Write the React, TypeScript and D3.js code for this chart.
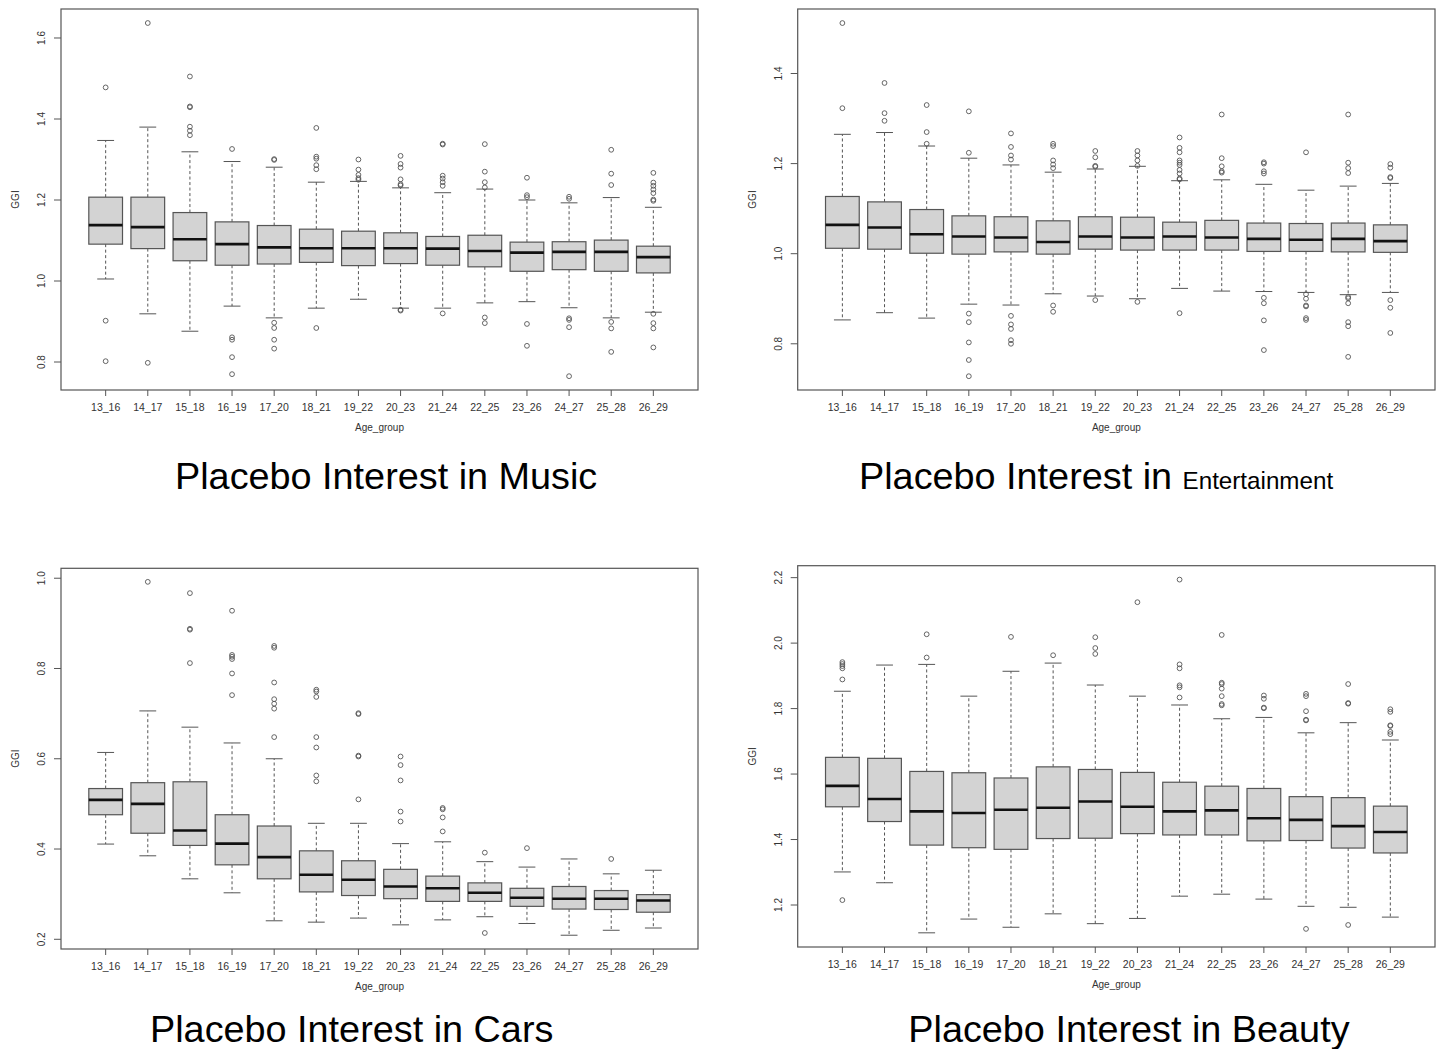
import React from "react";
import * as d3 from "d3";

// Age groups shared by all four panels
const ageGroups = [
  "13_16", "14_17", "15_18", "16_19", "17_20", "18_21", "19_22",
  "20_23", "21_24", "22_25", "23_26", "24_27", "25_28", "26_29",
];

// Each row: [lower whisker, Q1, median, Q3, upper whisker]
const musicBoxes: number[][] = [
  [1.005, 1.091, 1.138, 1.207, 1.347],
  [0.919, 1.080, 1.133, 1.207, 1.380],
  [0.876, 1.050, 1.103, 1.169, 1.319],
  [0.938, 1.039, 1.091, 1.146, 1.295],
  [0.909, 1.042, 1.083, 1.137, 1.281],
  [0.933, 1.046, 1.081, 1.128, 1.244],
  [0.955, 1.038, 1.081, 1.123, 1.246],
  [0.933, 1.043, 1.081, 1.119, 1.230],
  [0.933, 1.039, 1.080, 1.110, 1.218],
  [0.946, 1.035, 1.074, 1.113, 1.227],
  [0.949, 1.024, 1.070, 1.096, 1.200],
  [0.934, 1.028, 1.072, 1.097, 1.193],
  [0.909, 1.024, 1.072, 1.101, 1.206],
  [0.923, 1.020, 1.059, 1.086, 1.182],
];
const musicOutliers: number[][] = [
  [1.478, 0.902, 0.802],
  [1.637, 0.798],
  [1.505, 1.431, 1.429, 1.381, 1.371, 1.360],
  [1.326, 0.861, 0.855, 0.812, 0.770],
  [1.301, 1.299, 0.897, 0.884, 0.855, 0.833],
  [1.378, 1.307, 1.302, 1.286, 1.276, 0.884],
  [1.300, 1.275, 1.262, 1.254, 1.250],
  [1.309, 1.289, 1.280, 1.251, 1.239, 1.236, 0.929, 0.927],
  [1.339, 1.337, 1.260, 1.253, 1.244, 1.235, 0.920],
  [1.338, 1.270, 1.244, 1.231, 0.910, 0.896],
  [1.255, 1.212, 1.207, 0.894, 0.840],
  [1.208, 1.203, 0.908, 0.904, 0.886, 0.765],
  [1.324, 1.265, 1.237, 0.899, 0.883, 0.825],
  [1.267, 1.243, 1.235, 1.226, 1.217, 1.201, 1.198, 0.919, 0.896, 0.883, 0.836],
];

const entertainmentBoxes: number[][] = [
  [0.853, 1.012, 1.064, 1.127, 1.265],
  [0.869, 1.010, 1.058, 1.115, 1.269],
  [0.857, 1.001, 1.043, 1.098, 1.239],
  [0.888, 0.999, 1.038, 1.084, 1.212],
  [0.886, 1.004, 1.036, 1.082, 1.197],
  [0.911, 0.999, 1.026, 1.073, 1.181],
  [0.906, 1.010, 1.038, 1.082, 1.188],
  [0.900, 1.008, 1.036, 1.081, 1.194],
  [0.923, 1.008, 1.038, 1.070, 1.162],
  [0.917, 1.008, 1.036, 1.074, 1.164],
  [0.916, 1.005, 1.033, 1.068, 1.154],
  [0.914, 1.005, 1.031, 1.067, 1.141],
  [0.909, 1.004, 1.033, 1.068, 1.150],
  [0.914, 1.003, 1.028, 1.064, 1.156],
];
const entertainmentOutliers: number[][] = [
  [1.512, 1.323],
  [1.379, 1.312, 1.295],
  [1.330, 1.270, 1.244],
  [1.316, 1.224, 0.867, 0.848, 0.803, 0.764, 0.728],
  [1.267, 1.237, 1.218, 1.209, 0.862, 0.843, 0.833, 0.808, 0.800],
  [1.244, 1.239, 1.207, 1.198, 1.190, 0.885, 0.871],
  [1.228, 1.214, 1.195, 1.193, 0.897],
  [1.228, 1.218, 1.207, 1.195, 0.893],
  [1.258, 1.235, 1.225, 1.207, 1.202, 1.197, 1.186, 1.178, 1.167, 1.165, 0.868],
  [1.309, 1.212, 1.194, 1.183, 1.180],
  [1.203, 1.200, 1.183, 1.178, 0.902, 0.890, 0.852, 0.786],
  [1.225, 0.910, 0.900, 0.885, 0.883, 0.857, 0.853],
  [1.309, 1.202, 1.190, 1.179, 0.904, 0.901, 0.890, 0.848, 0.839, 0.771],
  [1.199, 1.191, 1.170, 1.168, 0.897, 0.880, 0.824],
];

const carsBoxes: number[][] = [
  [0.411, 0.476, 0.509, 0.534, 0.614],
  [0.385, 0.435, 0.500, 0.547, 0.706],
  [0.334, 0.408, 0.441, 0.549, 0.670],
  [0.303, 0.365, 0.412, 0.476, 0.635],
  [0.241, 0.334, 0.382, 0.451, 0.600],
  [0.238, 0.305, 0.343, 0.396, 0.457],
  [0.247, 0.297, 0.332, 0.374, 0.457],
  [0.232, 0.290, 0.317, 0.355, 0.412],
  [0.243, 0.284, 0.313, 0.340, 0.416],
  [0.250, 0.284, 0.303, 0.325, 0.372],
  [0.235, 0.273, 0.292, 0.313, 0.360],
  [0.209, 0.267, 0.290, 0.317, 0.378],
  [0.220, 0.266, 0.290, 0.308, 0.345],
  [0.225, 0.260, 0.286, 0.299, 0.353],
];
const carsOutliers: number[][] = [
  [],
  [0.992],
  [0.967, 0.888, 0.886, 0.812],
  [0.928, 0.830, 0.826, 0.821, 0.789, 0.741],
  [0.850, 0.846, 0.769, 0.732, 0.722, 0.711, 0.648],
  [0.753, 0.749, 0.737, 0.648, 0.625, 0.563, 0.550],
  [0.701, 0.699, 0.607, 0.605, 0.510],
  [0.605, 0.586, 0.552, 0.483, 0.461],
  [0.491, 0.488, 0.470, 0.439],
  [0.392, 0.214],
  [0.402],
  [],
  [0.378],
  [],
];

const beautyBoxes: number[][] = [
  [1.301, 1.500, 1.564, 1.651, 1.853],
  [1.268, 1.455, 1.524, 1.648, 1.933],
  [1.115, 1.383, 1.486, 1.608, 1.935],
  [1.157, 1.375, 1.481, 1.604, 1.838],
  [1.132, 1.370, 1.491, 1.588, 1.914],
  [1.173, 1.403, 1.497, 1.622, 1.939],
  [1.143, 1.404, 1.516, 1.614, 1.872],
  [1.159, 1.418, 1.500, 1.605, 1.838],
  [1.227, 1.414, 1.486, 1.575, 1.811],
  [1.233, 1.414, 1.489, 1.563, 1.769],
  [1.218, 1.396, 1.465, 1.556, 1.773],
  [1.196, 1.397, 1.460, 1.531, 1.726],
  [1.193, 1.374, 1.441, 1.528, 1.757],
  [1.163, 1.359, 1.423, 1.502, 1.704],
];
const beautyOutliers: number[][] = [
  [1.942, 1.936, 1.930, 1.923, 1.889, 1.215],
  [],
  [2.027, 1.956],
  [],
  [2.019],
  [1.963],
  [2.018, 1.985, 1.967],
  [2.125],
  [2.194, 1.935, 1.923, 1.871, 1.865, 1.834],
  [2.025, 1.879, 1.875, 1.861, 1.838, 1.814, 1.810],
  [1.840, 1.830, 1.803, 1.801],
  [1.845, 1.838, 1.792, 1.766, 1.764, 1.127],
  [1.875, 1.817, 1.815, 1.139],
  [1.798, 1.790, 1.749, 1.747, 1.729, 1.722],
];

const musicTicks = [0.8, 1.0, 1.2, 1.4, 1.6];
const entertainmentTicks = [0.8, 1.0, 1.2, 1.4];
const carsTicks = [0.2, 0.4, 0.6, 0.8, 1.0];
const beautyTicks = [1.2, 1.4, 1.6, 1.8, 2.0, 2.2];

const FONT = "'Liberation Sans', Arial, Helvetica, sans-serif";
const FRAME = "#555";
const INK = "#333";

type PanelProps = {
  left: number;
  right: number;
  top: number;
  bottom: number;
  yDomain: [number, number];
  ticks: number[];
  boxes: number[][];
  outliers: number[][];
};

function BoxPanel({ left, right, top, bottom, yDomain, ticks, boxes, outliers }: PanelProps) {
  const x = d3.scalePoint<string>().domain(ageGroups).range([left, right]).padding(1.06);
  const y = d3.scaleLinear().domain(yDomain).range([bottom, top]);
  const boxW = x.step() * 0.8;
  const capW = boxW / 2;
  const fmt = d3.format(".1f");
  const midY = (top + bottom) / 2;
  const midX = (left + right) / 2;

  return (
    <g fontFamily={FONT}>
      {ageGroups.map((g, i) => {
        const [lw, q1, med, q3, uw] = boxes[i];
        const cx = x(g)!;
        return (
          <g key={g}>
            <line x1={cx} x2={cx} y1={y(q3)} y2={y(uw)} stroke={FRAME} strokeWidth={1} strokeDasharray="3,2.5" />
            <line x1={cx} x2={cx} y1={y(q1)} y2={y(lw)} stroke={FRAME} strokeWidth={1} strokeDasharray="3,2.5" />
            <line x1={cx - capW / 2} x2={cx + capW / 2} y1={y(uw)} y2={y(uw)} stroke={FRAME} strokeWidth={1} />
            <line x1={cx - capW / 2} x2={cx + capW / 2} y1={y(lw)} y2={y(lw)} stroke={FRAME} strokeWidth={1} />
            <rect
              x={cx - boxW / 2}
              y={y(q3)}
              width={boxW}
              height={y(q1) - y(q3)}
              fill="#d3d3d3"
              stroke={FRAME}
              strokeWidth={1.2}
            />
            <line x1={cx - boxW / 2} x2={cx + boxW / 2} y1={y(med)} y2={y(med)} stroke="#111" strokeWidth={2.6} />
            {outliers[i].map((v, j) => (
              <circle key={j} cx={cx} cy={y(v)} r={2.4} fill="none" stroke={FRAME} strokeWidth={0.9} />
            ))}
          </g>
        );
      })}

      <rect x={left} y={top} width={right - left} height={bottom - top} fill="none" stroke={FRAME} strokeWidth={1.2} />

      {ticks.map((t) => (
        <g key={t}>
          <line x1={left - 7} x2={left} y1={y(t)} y2={y(t)} stroke={FRAME} strokeWidth={1} />
          <text
            transform={`translate(${left - 19.3},${y(t)}) rotate(-90)`}
            textAnchor="middle"
            dominantBaseline="central"
            fontSize={10}
            fill={INK}
          >
            {fmt(t)}
          </text>
        </g>
      ))}

      {ageGroups.map((g) => (
        <g key={g}>
          <line x1={x(g)} x2={x(g)} y1={bottom} y2={bottom + 6} stroke={FRAME} strokeWidth={1} />
          <text x={x(g)} y={bottom + 16.7} textAnchor="middle" dominantBaseline="central" fontSize={10.5} fill={INK}>
            {g}
          </text>
        </g>
      ))}

      <text
        transform={`translate(${left - 45.3},${midY}) rotate(-90)`}
        textAnchor="middle"
        dominantBaseline="central"
        fontSize={10}
        fill={INK}
      >
        GGI
      </text>
      <text x={midX} y={bottom + 37.7} textAnchor="middle" dominantBaseline="central" fontSize={10} fill={INK}>
        Age_group
      </text>
    </g>
  );
}

export default function App() {
  return (
    <svg
      width={1440}
      height={1049}
      viewBox="0 0 1440 1049"
      style={{ position: "absolute", left: 0, top: 0, background: "#fff" }}
    >
      <rect width={1440} height={1049} fill="#fff" />

      <BoxPanel
        left={61}
        right={698}
        top={9}
        bottom={390}
        yDomain={[0.7309, 1.6716]}
        ticks={musicTicks}
        boxes={musicBoxes}
        outliers={musicOutliers}
      />
      <BoxPanel
        left={797.7}
        right={1435}
        top={9}
        bottom={390}
        yDomain={[0.6974, 1.5432]}
        ticks={entertainmentTicks}
        boxes={entertainmentBoxes}
        outliers={entertainmentOutliers}
      />
      <BoxPanel
        left={61}
        right={698}
        top={568.3}
        bottom={949}
        yDomain={[0.1785, 1.022]}
        ticks={carsTicks}
        boxes={carsBoxes}
        outliers={carsOutliers}
      />
      <BoxPanel
        left={797.7}
        right={1435}
        top={565.7}
        bottom={947}
        yDomain={[1.0717, 2.2365]}
        ticks={beautyTicks}
        boxes={beautyBoxes}
        outliers={beautyOutliers}
      />

      <g fontFamily={FONT} fill="#000">
        <text x={175} y={489.3} fontSize={37.8}>Placebo Interest in Music</text>
        <text x={859} y={489.3} fontSize={37.8}>
          Placebo Interest in <tspan fontSize={24.2}>Entertainment</tspan>
        </text>
        <text x={150} y={1041.7} fontSize={37.8}>Placebo Interest in Cars</text>
        <text x={908.3} y={1041.7} fontSize={37.8}>Placebo Interest in Beauty</text>
      </g>
    </svg>
  );
}
